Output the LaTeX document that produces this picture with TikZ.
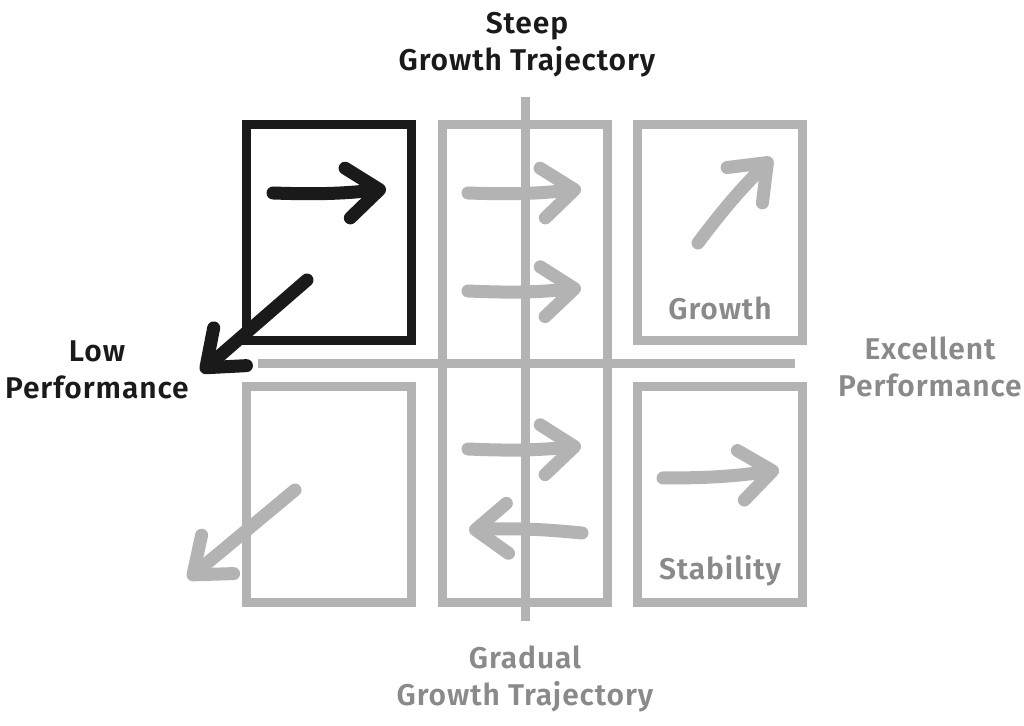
\documentclass[tikz,border=0pt]{standalone}
\usepackage{fontspec}
\setmainfont{Fira Sans}[BoldFont={Fira Sans SemiBold},LetterSpace=3]
\usepackage{tikz}
\usetikzlibrary{arrows.meta,positioning}
\definecolor{ink}{HTML}{1A1A1A}
\definecolor{boxgray}{HTML}{B3B3B3}
\definecolor{txtgray}{HTML}{8A8A8A}

\begin{document}
\begin{tikzpicture}[x=0.5pt,y=-0.5pt,
    quad/.style={draw=boxgray,line width=4.5pt,inner sep=0pt,minimum width=82.5pt,minimum height=108pt},
    axis/.style={draw=boxgray,line width=4.5pt},
    move/.style={line width=6.5pt,line cap=round,line join=round,
                 -{Straight Barb[length=16pt,width=25pt,round]}},
    lbl/.style={font=\bfseries\fontsize{15}{18.5}\selectfont,align=center,inner sep=0pt}]
   \useasboundingbox (0,0) rectangle (1024,726);

   % axes
   \coordinate (top) at (525,97);
   \coordinate (bot) at (525,621);
   \coordinate (lft) at (258,364);
   \coordinate (rgt) at (795,364);
   \draw[axis] (top) -- (bot);
   \draw[axis] (lft) -- (rgt);

   % quadrants
   \node[quad,draw=ink] (tl) at (329,232.5) {};
   \node[quad,minimum height=239.25pt] (mid) at (525,363.75) {};
   \node[quad] (tr) at (719.75,232.5) {};
   \node[quad] (bl) at (329,495) {};
   \node[quad] (br) at (719.75,495) {};

   % labels
   \node[lbl,text=ink] (steep) at (527,45) {Steep\\Growth Trajectory};
   \node[lbl,text=txtgray] (gradual) at (525,679) {Gradual\\Growth Trajectory};
   \node[lbl,text=ink] (low) at (97,370) {Low\\Performance};
   \node[lbl,text=txtgray] (excel) at (930,367) {Excellent\\Performance};
   \node[lbl,text=txtgray] (growth) at (720,308) {Growth};
   \node[lbl,text=txtgray] (stab) at (720,571) {Stability};

   % moves
   \coordinate (a1s) at (273,193); \coordinate (a1e) at (386,189);
   \coordinate (a2s) at (468,193); \coordinate (a2e) at (581,189);
   \coordinate (a3s) at (468,291); \coordinate (a3e) at (581,288);
   \coordinate (a4s) at (307,280); \coordinate (a4e) at (201,372);
   \coordinate (a5s) at (698,243); \coordinate (a5e) at (772,158);
   \coordinate (a6s) at (295,490); \coordinate (a6e) at (188,579);
   \coordinate (a7s) at (468,449); \coordinate (a7e) at (581,446);
   \coordinate (a8s) at (582,533); \coordinate (a8e) at (469,530);
   \coordinate (a9s) at (663,478); \coordinate (a9e) at (779,470);

   \draw[move,ink] (a1s) to[bend right=4] (a1e);
   \draw[move,ink] (a4s) -- (a4e);
   \path[every edge/.style={move,draw=boxgray}]
    (a2s) edge[bend right=4] (a2e)
    (a3s) edge[bend right=4] (a3e)
    (a5s) edge[bend left=4] (a5e)
    (a6s) edge (a6e)
    (a7s) edge[bend right=4] (a7e)
    (a8s) edge[bend right=4] (a8e)
    (a9s) edge[bend right=4] (a9e);
\end{tikzpicture}
\end{document}
